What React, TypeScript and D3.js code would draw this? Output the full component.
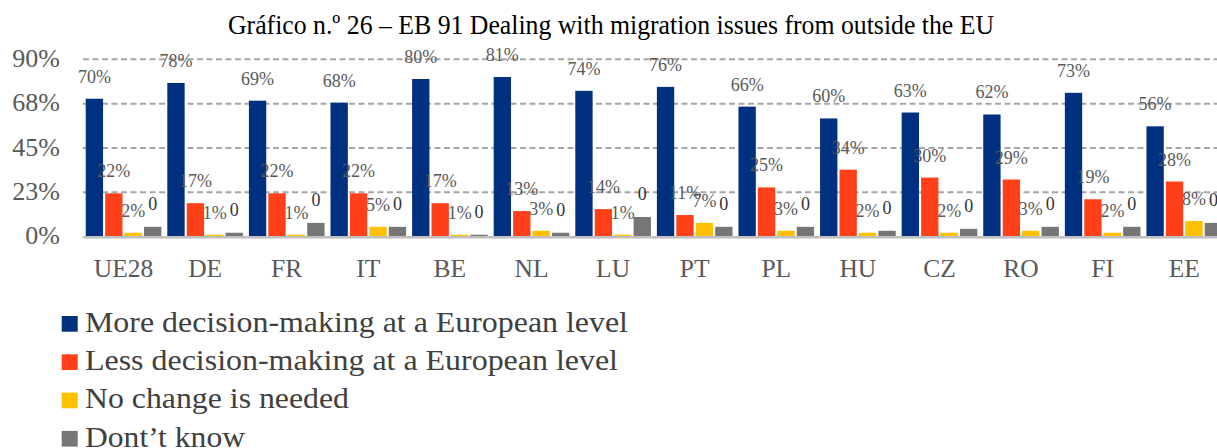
import React from "react";
import * as d3 from "d3";

const categories = ["UE28", "DE", "FR", "IT", "BE", "NL", "LU", "PT", "PL", "HU", "CZ", "RO", "FI", "EE"];
const legendLabels = [
  "More decision-making at a European level",
  "Less decision-making at a European level",
  "No change is needed",
  "Dont’t know",
];
const moreEU = [70, 78, 69, 68, 80, 81, 74, 76, 66, 60, 63, 62, 73, 56];
const lessEU = [22, 17, 22, 22, 17, 13, 14, 11, 25, 34, 30, 29, 19, 28];
const noChange = [2, 1, 1, 5, 1, 3, 1, 7, 3, 2, 2, 3, 2, 8];
const dontKnow = [5, 2, 7, 5, 1, 2, 10, 5, 5, 3, 4, 5, 5, 7];
const dontKnowLabels = ["0", "0", "0", "0", "0", "0", "0", "0", "0", "0", "0", "0", "0", "0"];
const yTicks = [0, 22.5, 45, 67.5, 90];
const title = "Gráfico n.º 26 – EB 91 Dealing with migration issues from outside the EU";

const colors = ["#00307f", "#ff4019", "#ffc000", "#767676"];
const FONT = '"Liberation Serif", "Times New Roman", Tinos, "DejaVu Serif", serif';

export default function App() {
  const W = 1217;
  const H = 448;
  const x0 = d3.scaleBand<string>().domain(categories).range([83.8, 83.8 + 1140.2]).paddingInner(0.073).paddingOuter(0.0235);
  const x1 = d3.scaleBand<number>().domain([0, 1, 2, 3]).range([0, x0.bandwidth()]).paddingInner(0.108).paddingOuter(0);
  const y = d3.scaleLinear().domain([0, 90]).range([236.7, 59.3]);
  const series = [moreEU, lessEU, noChange, dontKnow];
  const labelFor = (s: number, i: number) => (s === 3 ? dontKnowLabels[i] : `${series[s][i]}%`);
  const legendWidths = [543, 533, 264, 160];
  const tf = { fontFamily: FONT };

  return (
    <>
      <style>{`body{margin:0;} svg text{font-family:${FONT};}`}</style>
      <svg width={W} height={H} style={{ display: "block", background: "#fff", fontFamily: FONT }}>
        <text x={228} y={34} fontSize={28} fill="#000" style={tf} textLength={766} lengthAdjust="spacingAndGlyphs">
          {title}
        </text>
        {yTicks.slice(1).map((t) => (
          <line key={t} x1={83} x2={W} y1={y(t)} y2={y(t)} stroke="#a6a6a6" strokeWidth={2} strokeDasharray="6,3.5" />
        ))}
        {yTicks.map((t) => (
          <text key={"l" + t} x={60} y={y(t) + 7.5} fontSize={26} fill="#595959" textAnchor="end" style={tf}>
            {`${Math.round(t)}%`}
          </text>
        ))}
        {categories.map((c, i) => (
          <g key={c} transform={`translate(${x0(c)},0)`}>
            {series.map((s, k) => (
              <rect key={k} x={x1(k)} y={y(s[i])} width={x1.bandwidth()} height={y(0) - y(s[i])} fill={colors[k]} />
            ))}
          </g>
        ))}
        <line x1={82.7} x2={W} y1={y(0) + 0.5} y2={y(0) + 0.5} stroke="#bfbfbf" strokeWidth={2.5} />
        {categories.map((c, i) => (
          <g key={"dl" + c} transform={`translate(${x0(c)},0)`}>
            {series.map((s, k) => (
              <text
                key={k}
                x={(x1(k) as number) + x1.bandwidth() / 2}
                y={y(s[i]) - (k === 3 ? 17 : 16)}
                fontSize={18}
                fill={k === 3 ? "#333" : "#595959"}
                textAnchor="middle"
                style={tf}
              >
                {labelFor(k, i)}
              </text>
            ))}
          </g>
        ))}
        {categories.map((c) => (
          <text key={"c" + c} x={(x0(c) as number) + x0.bandwidth() / 2} y={276.7} fontSize={25.5} fill="#595959" textAnchor="middle" style={tf}>
            {c}
          </text>
        ))}
        {legendLabels.map((l, i) => (
          <g key={"lg" + i}>
            <rect x={61.7} y={316 + i * 38.3} width={16} height={15.7} fill={colors[i]} />
            <text x={85} y={331.7 + i * 38.3} fontSize={28.5} fill="#404040" style={tf} textLength={legendWidths[i]} lengthAdjust="spacingAndGlyphs">
              {l}
            </text>
          </g>
        ))}
      </svg>
    </>
  );
}
